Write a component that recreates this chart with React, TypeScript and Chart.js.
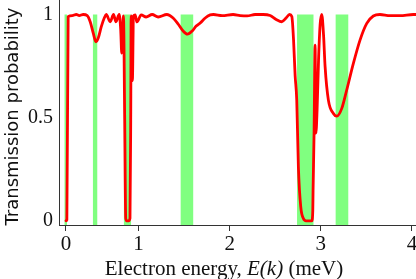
import React, { useEffect, useRef } from 'react';
import { Chart, registerables, LinearScale } from 'chart.js';

// ---- data ----
const ENERGY = [
  0, 0.012, 0.03, 0.087, 0.142, 0.183, 0.238, 0.293, 0.335, 0.376, 0.413, 0.445,
  0.486, 0.528, 0.555, 0.61, 0.656, 0.689, 0.734, 0.755, 0.769, 0.782, 0.793, 0.81,
  0.824, 0.837, 0.865, 0.883, 0.893, 0.899, 0.916, 0.931, 0.955, 0.978, 1.03, 1.084,
  1.15, 1.216, 1.311, 1.38, 1.435, 1.49, 1.537, 1.589, 1.633, 1.677, 1.732, 1.787,
  1.822, 1.918, 2.038, 2.115, 2.192, 2.279, 2.367, 2.444, 2.51, 2.572, 2.619, 2.657,
  2.682, 2.701, 2.718, 2.736, 2.754, 2.78, 2.809, 2.838, 2.901, 2.912, 2.915, 2.926,
  2.937, 2.946, 2.959, 2.975, 2.992, 3.01, 3.03, 3.047, 3.083, 3.138, 3.175, 3.23,
  3.284, 3.357, 3.43, 3.504, 3.576, 3.649, 3.759, 3.869, 4.014, 4.044,
];
const TRANSMISSION = [
  0, 0.005, 0.99, 0.995, 1.0, 0.995, 1.0, 0.995, 0.964, 0.91, 0.868, 0.886,
  0.94, 0.983, 1.0, 0.965, 1.0, 0.965, 1.0, 0.925, 0.813, 0.925, 0.993, 0.488,
  0.012, 0, 0, 0.012, 0.488, 0.993, 0.68, 0.993, 0.998, 0.964, 0.998, 0.988,
  1.0, 0.988, 1.0, 0.983, 0.954, 0.92, 0.905, 0.92, 0.944, 0.959, 0.983, 0.998,
  1.0, 0.995, 1.0, 0.995, 0.993, 1.0, 1.0, 0.995, 0.976, 0.965, 0.983, 1.0,
  0.99, 0.876, 0.706, 0.585, 0.261, 0.067, 0.011, 0, 0, 0.05, 0.148, 0.425,
  0.852, 0.425, 0.536, 0.779, 0.949, 1.0, 0.9, 0.747, 0.585, 0.52, 0.507, 0.545,
  0.634, 0.763, 0.876, 0.957, 0.993, 1.0, 0.995, 0.995, 1.0, 1.0,
];
const BAND_START = [-0.023, 0.369, 0.796, 1.46, 2.739, 3.16];
const BAND_END = [0.014, 0.435, 0.899, 1.603, 2.922, 3.304];
const BAND_TOP = 1;
const X_TICKS = [0, 1, 2, 3, 4];
const Y_TICKS = [0, 0.5, 1];
const X_MIN = -0.0965;
const X_MAX = 4.044;
const Y_MIN = -0.0204;
const Y_MAX = 1.0704;
// the reference axis is compressed between 0 and 1
const FIRST_UNIT_RATIO = 0.795;

const X_TITLE_PARTS = [
  { text: 'Electron energy, ', italic: false },
  { text: 'E(k)', italic: true },
  { text: ' (meV)', italic: false },
];
const Y_TITLE = 'Transmission probability';

class WarpedScale extends LinearScale {
  static id = 'warped';
  static defaults = { ...LinearScale.defaults };
  warp(v: number) {
    return v < 1 ? v * FIRST_UNIT_RATIO : FIRST_UNIT_RATIO + (v - 1);
  }
  unwarp(w: number) {
    return w < FIRST_UNIT_RATIO ? w / FIRST_UNIT_RATIO : w - FIRST_UNIT_RATIO + 1;
  }
  getPixelForValue(value: any) {
    if (value === null || value === undefined || isNaN(value)) return NaN;
    const a = this.warp(this.min);
    const b = this.warp(this.max);
    return this.getPixelForDecimal((this.warp(value) - a) / (b - a));
  }
  getValueForPixel(pixel: number) {
    const a = this.warp(this.min);
    const b = this.warp(this.max);
    return this.unwarp(a + this.getDecimalForPixel(pixel) * (b - a));
  }
}

Chart.register(...registerables, WarpedScale as any);

const titlesPlugin = {
  id: 'axisTitles',
  afterDraw(chart: any) {
    const ctx = chart.ctx as CanvasRenderingContext2D;
    ctx.save();
    ctx.fillStyle = '#111';
    // x title
    const size = 21;
    const fontN = `${size}px "Liberation Serif"`;
    const fontI = `italic ${size}px "Liberation Serif"`;
    let total = 0;
    const widths = X_TITLE_PARTS.map((p) => {
      ctx.font = p.italic ? fontI : fontN;
      const w = ctx.measureText(p.text).width;
      total += w;
      return w;
    });
    let x = 224 - total / 2;
    ctx.textBaseline = 'alphabetic';
    ctx.textAlign = 'left';
    X_TITLE_PARTS.forEach((p, i) => {
      ctx.font = p.italic ? fontI : fontN;
      ctx.fillText(p.text, x, 275);
      x += widths[i];
    });
    // y title
    ctx.translate(18.3, 116.5);
    ctx.rotate(-Math.PI / 2);
    ctx.font = `18px "DejaVu Sans"`;
    ctx.textAlign = 'center';
    ctx.textBaseline = 'alphabetic';
    ctx.fillText(Y_TITLE, 0, 0);
    ctx.restore();
  },
};

export default function App() {
  const ref = useRef<HTMLCanvasElement | null>(null);
  useEffect(() => {
    if (!ref.current) return;
    const bandSets = BAND_START.map((s, i) => ({
      data: [
        { x: s, y: BAND_TOP },
        { x: BAND_END[i], y: BAND_TOP },
      ],
      borderWidth: 0,
      borderColor: 'rgba(0,0,0,0)',
      backgroundColor: '#80ff80',
      fill: 'start',
      pointRadius: 0,
      tension: 0,
    }));
    const chart = new Chart(ref.current, {
      type: 'line',
      data: {
        datasets: [
          {
            data: ENERGY.map((e, i) => ({ x: e, y: TRANSMISSION[i] })),
            borderColor: '#ff0000',
            borderWidth: 2.8,
            pointRadius: 0,
            fill: false,
            cubicInterpolationMode: 'monotone',
            borderJoinStyle: 'round',
            borderCapStyle: 'round',
          } as any,
          ...(bandSets as any),
        ],
      },
      options: {
        responsive: false,
        animation: false,
        devicePixelRatio: 1,
        layout: { padding: 0 },
        plugins: { legend: { display: false }, tooltip: { enabled: false } },
        scales: {
          x: {
            type: 'warped' as any,
            min: X_MIN,
            max: X_MAX,
            afterBuildTicks: (s: any) => {
              s.ticks = X_TICKS.map((v) => ({ value: v }));
            },
            afterFit: (s: any) => {
              s.height = 54;
              s.paddingLeft = 0;
              s.paddingRight = 0;
            },
            grid: {
              display: true,
              drawOnChartArea: false,
              drawTicks: true,
              tickLength: 6,
              color: '#333',
              lineWidth: 1,
            },
            border: { display: true, color: '#333', width: 1 },
            ticks: {
              font: { family: 'Liberation Serif', size: 21 },
              color: '#111',
              padding: 1,
              maxRotation: 0,
              autoSkip: false,
              callback: (v: any) => String(v),
            },
          } as any,
          y: {
            type: 'linear',
            min: Y_MIN,
            max: Y_MAX,
            afterBuildTicks: (s: any) => {
              s.ticks = Y_TICKS.map((v) => ({ value: v }));
            },
            afterFit: (s: any) => {
              s.width = 59;
              s.paddingTop = 0;
              s.paddingBottom = 0;
            },
            grid: { display: false, drawTicks: false },
            border: { display: true, color: '#333', width: 1 },
            ticks: {
              font: { family: 'Liberation Serif', size: 20 },
              color: '#111',
              padding: 6,
              autoSkip: false,
              callback: (v: any) => String(v),
            },
          },
        },
      },
      plugins: [titlesPlugin],
    });
    return () => chart.destroy();
  }, []);
  return (
    <div style={{ position: 'absolute', left: 0, top: 0, width: 416, height: 279 }}>
      <canvas ref={ref} width={416} height={279} style={{ display: 'block' }} />
    </div>
  );
}
